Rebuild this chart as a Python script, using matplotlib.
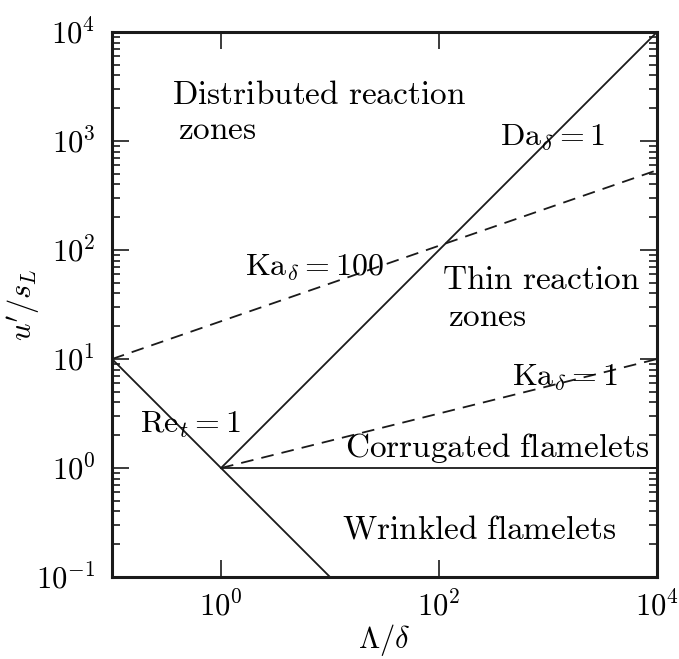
import matplotlib
matplotlib.use('Agg')
import numpy as np
import matplotlib.pyplot as plt
from matplotlib.ticker import FixedLocator, LogLocator, NullFormatter, NullLocator

plt.rcParams['mathtext.fontset'] = 'cm'
plt.rcParams['font.family'] = 'serif'
plt.rcParams['font.serif'] = ['cmr10', 'DejaVu Serif']
plt.rcParams['axes.formatter.use_mathtext'] = True

# regime boundaries, endpoints in (Lambda/delta, u'/s_L)
re_x = [0.1, 10]
re_y = [10, 0.1]
da_x = [1, 1e4]
da_y = [1, 1e4]
ka100_x = [0.1, 1e4]
ka100_y = [10, 540]
ka1_x = [1, 1e4]
ka1_y = [1, 10]
flat_x = [1, 1e4]
flat_y = [1, 1]

x_ticks = [1, 1e2, 1e4]
y_ticks = [1e-1, 1, 1e1, 1e2, 1e3, 1e4]

fig = plt.figure(figsize=(6.79, 6.59), dpi=100)
ax = fig.add_axes([0.165, 0.1244, 0.8026, 0.827])

lc = '#1a1a1a'
ax.plot(re_x, re_y, color=lc, lw=1.3)
ax.plot(da_x, da_y, color=lc, lw=1.3)
ax.plot(flat_x, flat_y, color=lc, lw=1.3)
ax.plot(ka100_x, ka100_y, color=lc, lw=1.3, dashes=(7, 4.5))
ax.plot(ka1_x, ka1_y, color=lc, lw=1.3, dashes=(7, 4.5))

ax.set_xscale('log')
ax.set_yscale('log')
ax.set_xlim(0.1, 1e4)
ax.set_ylim(0.1, 1e4)

ax.xaxis.set_major_locator(FixedLocator(x_ticks))
ax.xaxis.set_minor_locator(NullLocator())
ax.yaxis.set_major_locator(FixedLocator(y_ticks))
ax.yaxis.set_minor_locator(LogLocator(base=10, subs=np.arange(2, 10)))
ax.yaxis.set_minor_formatter(NullFormatter())

ax.tick_params(which='both', direction='in', top=True, right=True,
               labelsize=22, width=1.2, color=lc)
ax.tick_params(axis='x', pad=10)
ax.tick_params(axis='y', pad=12)
ax.tick_params(which='major', length=12)
ax.tick_params(which='minor', length=6)
for s in ax.spines.values():
    s.set_linewidth(2.2)
    s.set_color(lc)

ax.set_xlabel(r'$\Lambda/\delta$', fontsize=22, labelpad=0)
ax.set_ylabel(r"$u'/s_L$", fontsize=22)
ax.yaxis.set_label_coords(-0.128, 0.5)

fs = 23
fw = 24
ax.text(0.355, 10**3.42, r'$\mathrm{Distributed\ reaction}$', fontsize=fw, va='center')
ax.text(0.40, 10**3.10, r'$\mathrm{zones}$', fontsize=fw, va='center')
ax.text(10**2.56, 10**3.03, r'$\mathrm{Da}_\delta=1$', fontsize=fs, va='center')
ax.text(10**0.22, 10**1.835, r'$\mathrm{Ka}_\delta=100$', fontsize=fs, va='center')
ax.text(10**2.03, 10**1.725, r'$\mathrm{Thin\ reaction}$', fontsize=fw, va='center')
ax.text(10**2.08, 10**1.38, r'$\mathrm{zones}$', fontsize=fw, va='center')
ax.text(10**2.67, 10**0.83, r'$\mathrm{Ka}_\delta=1$', fontsize=fs, va='center')
ax.text(10**-0.743, 10**0.40, r'$\mathrm{Re}_t=1$', fontsize=fs, va='center')
ax.text(10**1.14, 10**0.18, r'$\mathrm{Corrugated\ flamelets}$', fontsize=fw, va='center')
ax.text(10**1.11, 10**-0.57, r'$\mathrm{Wrinkled\ flamelets}$', fontsize=fw, va='center')

fig.savefig('out.png', dpi=100)
